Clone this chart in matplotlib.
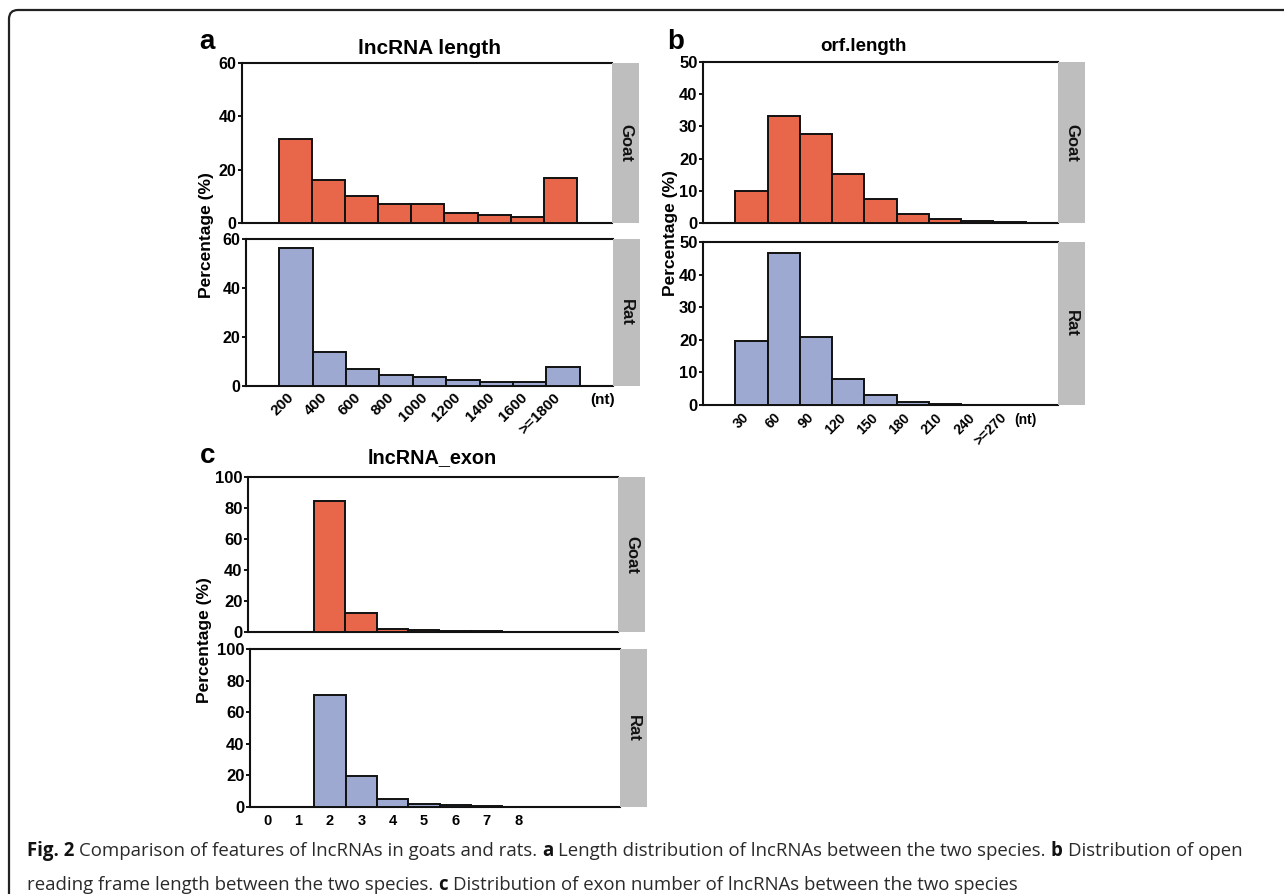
import matplotlib
matplotlib.use("Agg")
import matplotlib.pyplot as plt
from matplotlib.patches import Rectangle, FancyBboxPatch

# ---------------- data ----------------
len_labels = ["200", "400", "600", "800", "1000", "1200", "1400", "1600", ">=1800"]
len_goat = [31.4, 16.3, 10.2, 7.0, 7.3, 3.8, 2.9, 2.3, 16.7]
len_rat = [56.3, 14.0, 6.8, 4.5, 3.5, 2.3, 1.6, 1.5, 7.8]

orf_labels = ["30", "60", "90", "120", "150", "180", "210", "240", ">=270"]
orf_goat = [10.0, 33.3, 27.6, 15.2, 7.4, 2.8, 1.3, 0.6, 0.4]
orf_rat = [19.7, 46.6, 20.9, 8.0, 3.0, 0.9, 0.3, 0.1, 0.05]

exon_labels = ["0", "1", "2", "3", "4", "5", "6", "7", "8"]
exon_goat = [0, 0, 84.2, 12.5, 2.2, 1.0, 0.4, 0.4, 0]
exon_rat = [0, 0, 71.1, 19.8, 5.1, 1.9, 1.0, 0.6, 0]

species = ["Goat", "Rat"]
GOAT_C = "#E8674B"
RAT_C = "#9EA9D1"
STRIP_C = "#BEBEBE"

W, H = 1284, 894
fig = plt.figure(figsize=(W / 100, H / 100), dpi=100)
FONT = ["Liberation Sans", "DejaVu Sans"]


def fx(x):
    return x / W


def fy(y):
    return 1 - y / H


def make_ax(l, t, r, b):
    return fig.add_axes([fx(l), fy(b), (r - l) / W, (b - t) / H])


def style(ax, ymax, step, l, t, r, b, label, tsize):
    for s in ("left", "bottom", "top"):
        ax.spines[s].set_linewidth(1.5)
        ax.spines[s].set_color("#111111")
    ax.spines["right"].set_visible(False)
    ax.set_ylim(0, ymax)
    ax.set_yticks(list(range(0, ymax + 1, step)))
    ax.tick_params(axis="y", direction="out", length=3, width=1.3, pad=1,
                   labelsize=tsize)
    for tl in ax.get_yticklabels():
        tl.set_fontweight("bold")
        tl.set_family(FONT)
    ax.tick_params(axis="x", length=0)
    # strip
    fig.add_artist(Rectangle((fx(r), fy(b)), 27 / W, (b - t) / H,
                             facecolor=STRIP_C, edgecolor="none",
                             transform=fig.transFigure))
    fig.text(fx(r + 13.5), fy((t + b) / 2), label, rotation=-90,
             ha="center", va="center", fontsize=12, fontweight="bold",
             family=FONT, color="#111111")


def bars(ax, vals, color, align):
    xs = list(range(len(vals)))
    ax.bar(xs, vals, width=1.0, align=align, color=color,
           edgecolor="#111111", linewidth=1.4, zorder=3)


# ---------------- panel a ----------------
axa1 = make_ax(242, 63, 612, 223)
bars(axa1, len_goat, GOAT_C, "edge")
axa1.set_xlim(-1.1, 10.05)
style(axa1, 60, 20, 242, 63, 612, 223, species[0], 11.5)
axa1.set_xticks([])

axa2 = make_ax(246, 239, 613, 386)
bars(axa2, len_rat, RAT_C, "edge")
axa2.set_xlim(-1.0, 10.0)
style(axa2, 60, 20, 246, 239, 613, 386, species[1], 11.5)
axa2.set_xticks([i + 0.22 for i in range(len(len_labels))])
axa2.set_xticklabels(len_labels, rotation=45, ha="right", va="top",
                     rotation_mode="anchor", fontsize=11, fontweight="bold",
                     family=FONT)
axa2.tick_params(axis="x", pad=3)
fig.text(fx(603), fy(400), "(nt)", ha="center", va="center", fontsize=11,
         fontweight="bold", family=FONT)

# ---------------- panel b ----------------
axb1 = make_ax(703, 62, 1058, 223)
bars(axb1, orf_goat, GOAT_C, "edge")
axb1.set_xlim(-1.0, 10.0)
style(axb1, 50, 10, 703, 62, 1058, 223, species[0], 12)
axb1.set_xticks([])

axb2 = make_ax(703, 242, 1058, 405)
bars(axb2, orf_rat, RAT_C, "edge")
axb2.set_xlim(-1.0, 10.0)
style(axb2, 50, 10, 703, 242, 1058, 405, species[1], 12)
axb2.set_xticks([i + 0.2 for i in range(len(orf_labels))])
axb2.set_xticklabels(orf_labels, rotation=45, ha="right", va="top",
                     rotation_mode="anchor", fontsize=10, fontweight="bold",
                     family=FONT)
axb2.tick_params(axis="x", pad=4)
fig.text(fx(1025), fy(420), "(nt)", ha="center", va="center", fontsize=10,
         fontweight="bold", family=FONT)

# ---------------- panel c ----------------
axc1 = make_ax(248, 477, 618, 632)
bars(axc1, exon_goat, GOAT_C, "center")
axc1.set_xlim(-0.6, 11.2)
style(axc1, 100, 20, 248, 477, 618, 632, species[0], 12)
axc1.set_xticks([])

axc2 = make_ax(250, 649, 620, 807)
bars(axc2, exon_rat, RAT_C, "center")
axc2.set_xlim(-0.55, 11.25)
style(axc2, 100, 20, 250, 649, 620, 807, species[1], 12)
axc2.set_xticks(list(range(len(exon_labels))))
axc2.set_xticklabels(exon_labels, fontsize=10.5, fontweight="bold", family=FONT)
axc2.tick_params(axis="x", pad=5)

# ---------------- titles, letters, y labels ----------------
fig.text(fx(199), fy(49), "a", fontsize=20, fontweight="bold", family=FONT,
         va="baseline", ha="left")
fig.text(fx(667), fy(49), "b", fontsize=20, fontweight="bold", family=FONT,
         va="baseline", ha="left")
fig.text(fx(200), fy(463), "c", fontsize=20, fontweight="bold", family=FONT,
         va="baseline", ha="left")

fig.text(fx(430), fy(54), "lncRNA length", fontsize=15, fontweight="bold",
         family=FONT, ha="center", va="baseline")
fig.text(fx(863), fy(51), "orf.length", fontsize=13.5, fontweight="bold",
         family=FONT, ha="center", va="baseline")
fig.text(fx(432), fy(463), "lncRNA_exon", fontsize=14.3, fontweight="bold",
         family=FONT, ha="center", va="baseline")

for x, y in ((206, 235), (671, 233), (204, 640)):
    fig.text(fx(x), fy(y), "Percentage (%)", rotation=90, ha="center",
             va="center", fontsize=12.5, fontweight="bold", family=FONT)

# ---------------- border ----------------
border = FancyBboxPatch((9, -20), 1400, H - 10 + 20,
                        boxstyle="round,pad=0,rounding_size=9",
                        transform=None, facecolor="none",
                        edgecolor="#222222", linewidth=1.6, clip_on=False)
fig.add_artist(border)

# ---------------- caption ----------------
CAP_FONT = ["Open Sans", "DejaVu Sans"]
renderer = fig.canvas.get_renderer()


def width_of(s, size, bold):
    t = fig.text(0, 0, s, fontsize=size, fontweight="bold" if bold else "normal",
                 family=CAP_FONT)
    w = t.get_window_extent(renderer).width
    t.remove()
    return w


line1 = [("Fig. 2", True), ("Comparison of features of lncRNAs in goats and rats.", False),
         ("a", True), ("Length distribution of lncRNAs between the two species.", False),
         ("b", True), ("Distribution of open", False)]
line2 = [("reading frame length between the two species.", False), ("c", True),
         ("Distribution of exon number of lncRNAs between the two species", False)]


def line_width(parts, size):
    sp = width_of("a a", size, False) - width_of("aa", size, False)
    return sum(width_of(p, size, b) for p, b in parts) + sp * (len(parts) - 1)


base = 10.0
target = 1247 - 27
cap_size = base * target / line_width(line1, base)


def draw_line(parts, x0, ybase, size):
    sp = width_of("a a", size, False) - width_of("aa", size, False)
    x = x0
    for p, b in parts:
        fig.text(fx(x), fy(ybase), p, fontsize=size,
                 fontweight="bold" if b else "normal", family=CAP_FONT,
                 color="#111111" if b else "#2a2a2a", va="baseline", ha="left")
        x += width_of(p, size, b) + sp


draw_line(line1, 27, 856, cap_size)
draw_line(line2, 27, 890, cap_size)

fig.savefig("out.png", dpi=100)
